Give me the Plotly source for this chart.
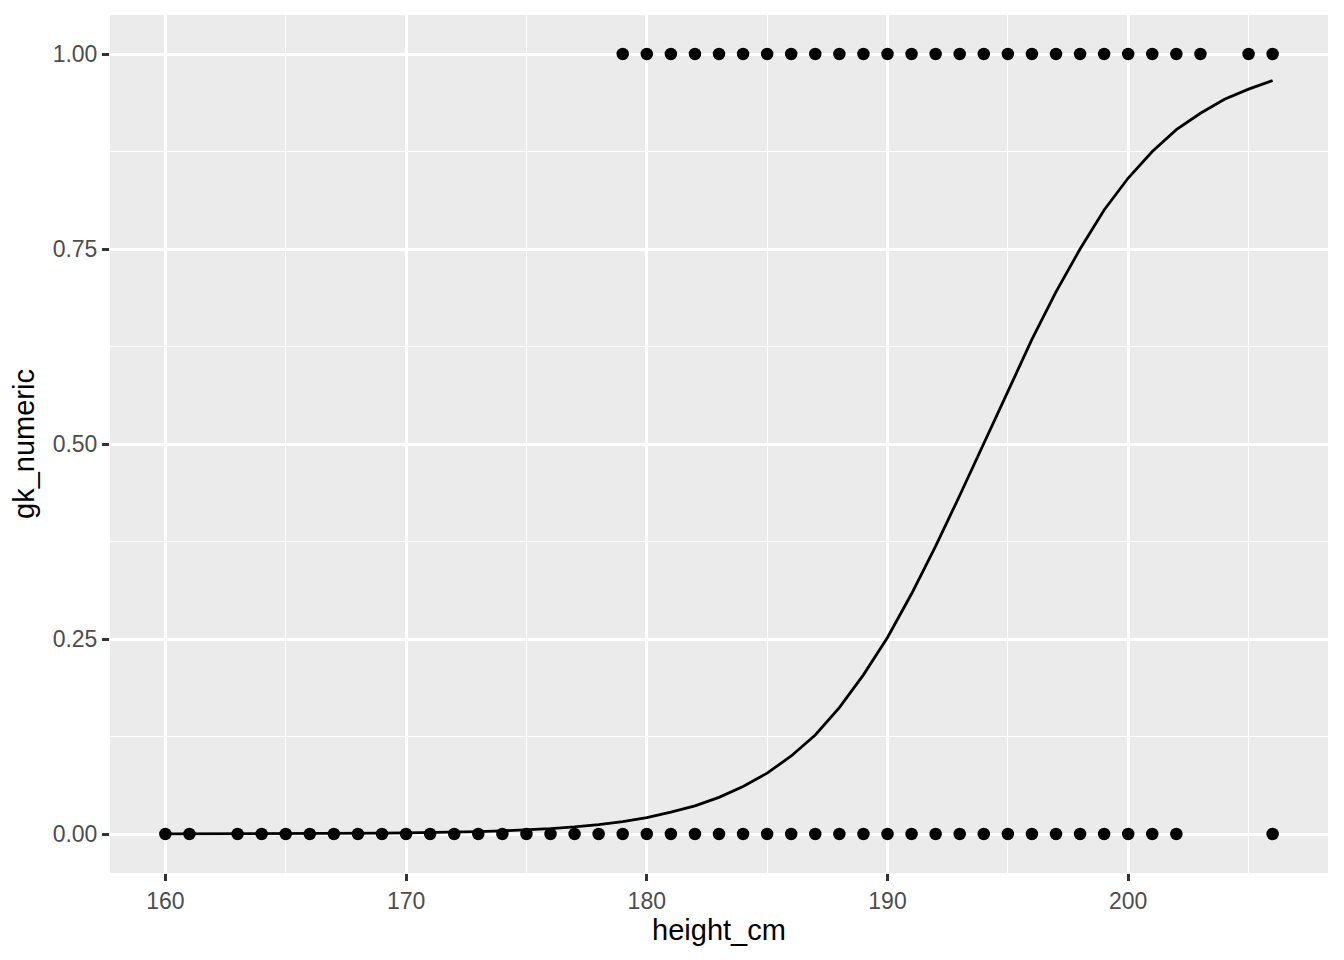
import plotly.graph_objects as go

# Observed points (height_cm, gk_numeric)
heights_gk1 = list(range(179, 204)) + [205, 206]
heights_gk0 = [160, 161] + list(range(163, 203)) + [206]

# Fitted curve
curve_x = list(range(160, 207))
curve_y = [0.0001, 0.0001, 0.0002, 0.0002, 0.0003, 0.0004, 0.0005, 0.0006, 0.0008, 0.0010,
           0.0014, 0.0018, 0.0023, 0.0031, 0.0040, 0.0053, 0.0070, 0.0092, 0.0121, 0.016,
           0.021, 0.028, 0.036, 0.047, 0.061, 0.078, 0.100, 0.127, 0.162, 0.204,
           0.252, 0.308, 0.369, 0.434, 0.500, 0.568, 0.634, 0.695, 0.750, 0.800,
           0.841, 0.875, 0.903, 0.924, 0.942, 0.955, 0.966]

x_ticks = [160, 170, 180, 190, 200]
y_ticks = [0.0, 0.25, 0.5, 0.75, 1.0]
y_tick_labels = ["0.00", "0.25", "0.50", "0.75", "1.00"]

FONT = "Liberation Sans, Arial, sans-serif"

fig = go.Figure()
fig.add_trace(go.Scatter(
    x=heights_gk1 + heights_gk0,
    y=[1] * len(heights_gk1) + [0] * len(heights_gk0),
    mode="markers",
    marker=dict(color="black", size=12.5),
    showlegend=False,
))
fig.add_trace(go.Scatter(
    x=curve_x, y=curve_y, mode="lines",
    line=dict(color="black", width=2.8),
    showlegend=False,
))

axis_common = dict(
    showgrid=True, gridcolor="white", gridwidth=2.8,
    zeroline=False, showline=False,
    ticks="outside", ticklen=7, tickwidth=2.8, tickcolor="#333333",
    tickfont=dict(family=FONT, size=23, color="#4D4D4D"),
)

fig.update_layout(
    width=1336, height=952,
    paper_bgcolor="white", plot_bgcolor="#EBEBEB",
    margin=dict(l=102, r=16, t=7, b=87),
    xaxis=dict(
        range=[157.7, 208.3], tickvals=x_ticks,
        minor=dict(tickvals=[165, 175, 185, 195, 205], showgrid=True,
                   gridcolor="white", gridwidth=1.4, ticks=""),
        title=dict(text="height_cm", font=dict(family=FONT, size=29, color="black"), standoff=4),
        **axis_common,
    ),
    yaxis=dict(
        range=[-0.05, 1.05], tickvals=y_ticks, ticktext=y_tick_labels,
        minor=dict(tickvals=[0.125, 0.375, 0.625, 0.875], showgrid=True,
                   gridcolor="white", gridwidth=1.4, ticks=""),
        title=dict(text="gk_numeric", font=dict(family=FONT, size=29, color="black"), standoff=10),
        **axis_common,
    ),
)

fig.write_html("out.html")
